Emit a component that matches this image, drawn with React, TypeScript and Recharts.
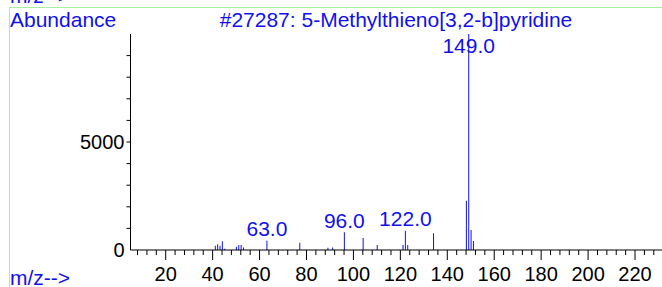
import React from 'react';
import { BarChart, Bar, XAxis, YAxis, LabelList } from 'recharts';

const masses = [41, 42, 43, 44, 45, 50, 51, 52, 53, 63, 77, 89, 91, 96, 104, 110, 121, 122, 123, 134, 148, 149, 150, 151];
const abundances = [200, 265, 200, 400, 60, 150, 230, 230, 120, 430, 340, 100, 110, 820, 560, 230, 230, 895, 230, 770, 2280, 9999, 925, 415];
const labeledMasses = [63, 96, 122, 149];
const xTicks = [8, 12, 16, 20, 24, 28, 32, 36, 40, 44, 48, 52, 56, 60, 64, 68, 72, 76, 80, 84, 88, 92, 96, 100, 104, 108, 112, 116, 120, 124, 128, 132, 136, 140, 144, 148, 152, 156, 160, 164, 168, 172, 176, 180, 184, 188, 192, 196, 200, 204, 208, 212, 216, 220, 224, 228];
const xMajorTicks = [20, 40, 60, 80, 100, 120, 140, 160, 180, 200, 220];
const yTicks = [0, 1000, 2000, 3000, 4000, 5000, 6000, 7000, 8000, 9000];
const yLabeledTicks = [0, 5000];
const title = '#27287: 5-Methylthieno[3,2-b]pyridine';
const yLabel = 'Abundance';
const xLabel = 'm/z-->';

const data = masses.map((m, i) => ({ mz: m, abundance: abundances[i] }));

const BLUE = '#1010ee';
const FONT = '"Liberation Sans", Arial, Helvetica, sans-serif';

const XTick = (props: any) => {
  const { x, y, payload } = props;
  const major = xMajorTicks.includes(payload.value);
  return (
    <g>
      <line x1={x} x2={x} y1={y} y2={y + (major ? 10 : 5)} stroke="#000" strokeWidth={1} />
      {major && (
        <text x={x} y={y + 31} textAnchor="middle" fontSize={20} fontFamily={FONT} fill="#000">
          {payload.value}
        </text>
      )}
    </g>
  );
};

const YTick = (props: any) => {
  const { x, y, payload } = props;
  const labeled = yLabeledTicks.includes(payload.value);
  return (
    <g>
      {payload.value !== 0 && <line x1={x - 4} x2={x} y1={y} y2={y} stroke="#000" strokeWidth={1} />}
      {labeled && (
        <text x={x - 6} y={y + 7} textAnchor="end" fontSize={20} fontFamily={FONT} fill="#000">
          {payload.value}
        </text>
      )}
    </g>
  );
};

const PeakLabel = (props: any) => {
  const { x, y, width, value } = props;
  if (!labeledMasses.includes(value)) return null;
  const cx = x + width / 2;
  const by = Math.max(y - 4.5, 53);
  return (
    <text x={cx} y={by} textAnchor="middle" fontSize={21} fontFamily={FONT} fill={BLUE}>
      {Number(value).toFixed(1)}
    </text>
  );
};

export default function App() {
  return (
    <div style={{ position: 'absolute', left: 0, top: 0, width: 662, height: 287, background: '#fff', overflow: 'hidden' }}>
      <svg width={662} height={287} style={{ position: 'absolute', left: 0, top: 0 }}>
        <rect x={9.5} y={7.5} width={700} height={300} fill="none" stroke="#a8f0a0" strokeWidth={1} />
        <text x={10} y={3} fontSize={21} fontFamily={FONT} fill={BLUE}>{xLabel}</text>
        <text x={10} y={26.5} fontSize={21} fontFamily={FONT} fill={BLUE}>{yLabel}</text>
        <text x={396} y={27} textAnchor="middle" fontSize={21} fontFamily={FONT} fill={BLUE}>{title}</text>
        <text x={10} y={285} fontSize={21} fontFamily={FONT} fill={BLUE}>{xLabel}</text>
      </svg>
      <div style={{ position: 'absolute', left: 0, top: 0 }}>
        <BarChart width={662} height={287} data={data} margin={{ top: 34, right: 0, bottom: 0, left: 0.5 }} barSize={1}>
          <XAxis
            dataKey="mz"
            type="number"
            domain={[5, 231.5]}
            allowDataOverflow
            ticks={xTicks}
            interval={0}
            tick={<XTick />}
            tickLine={false}
            tickSize={0}
            tickMargin={0}
            height={37}
            axisLine={{ stroke: '#000', strokeWidth: 1 }}
          />
          <YAxis
            type="number"
            domain={[0, 10000]}
            allowDataOverflow
            ticks={yTicks}
            interval={0}
            tick={<YTick />}
            tickLine={false}
            tickSize={0}
            tickMargin={0}
            width={130}
            axisLine={{ stroke: '#000', strokeWidth: 1 }}
          />
          <Bar dataKey="abundance" fill={BLUE} isAnimationActive={false}>
            <LabelList dataKey="mz" content={<PeakLabel />} />
          </Bar>
        </BarChart>
      </div>
    </div>
  );
}
